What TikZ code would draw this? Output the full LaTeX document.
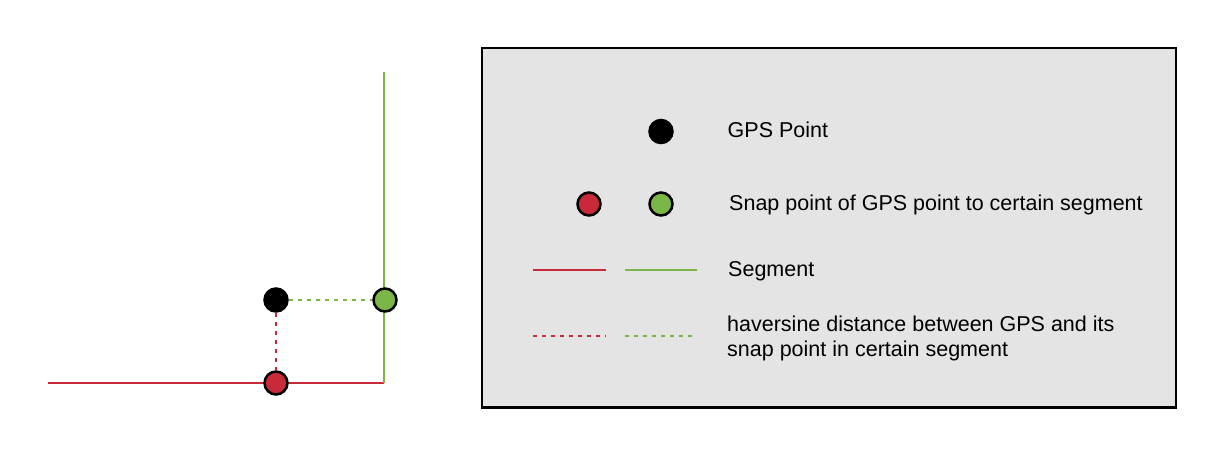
\documentclass[tikz,border=0pt]{standalone}
\usepackage{fontspec}
\setmainfont{Liberation Sans}
\definecolor{segred}{HTML}{C92A39}
\definecolor{seggreen}{HTML}{7AB648}
\definecolor{boxgray}{HTML}{E4E4E4}
\begin{document}
\begin{tikzpicture}[x=1pt,y=-1pt,
  dot/.style={circle,draw=black,line width=2.5pt,minimum size=23pt,inner sep=0pt},
  gpsdot/.style={dot,fill=black},
  reddot/.style={dot,fill=segred},
  greendot/.style={dot,fill=seggreen},
  redseg/.style={draw=segred,line width=2.5pt},
  greenseg/.style={draw=seggreen,line width=2.5pt},
  reddash/.style={redseg,dash pattern=on 4pt off 5pt},
  greendash/.style={greenseg,dash pattern=on 4pt off 5pt},
  label/.style={anchor=base west,inner sep=0pt,font=\fontsize{21.5}{25}\selectfont,align=left}]
\useasboundingbox (0,0) rectangle (1224,456);
% left scene
\coordinate (rl) at (48,383);
\coordinate (corner) at (384,383);
\coordinate (gt) at (384,72);
\draw[redseg] (rl) -- (corner);
\draw[greenseg] (corner) -- (gt);
\node[gpsdot] (g) at (276,300) {};
\node[greendot] (sg) at (385,300) {};
\node[reddot] (sr) at (276,383) {};
\draw[greendash] (g) -- (sg);
\draw[reddash] (g) -- (sr);
% legend box
\draw[fill=boxgray,line width=2.5pt] (482,48) rectangle (1176,407.5);
\node[gpsdot] (lg) at (661,131.5) {};
\node[reddot] (lr) at (589,204) {};
\node[greendot] (lgr) at (661,204) {};
\coordinate (ls1) at (533,270);
\coordinate (ls2) at (606,270);
\coordinate (ls3) at (625,270);
\coordinate (ls4) at (697,270);
\draw[redseg] (ls1) -- (ls2);
\draw[greenseg] (ls3) -- (ls4);
\coordinate (ld1) at (533,336);
\coordinate (ld2) at (606,336);
\coordinate (ld3) at (625,336);
\coordinate (ld4) at (697,336);
\draw[reddash] (ld1) -- (ld2);
\draw[greendash] (ld3) -- (ld4);
\node[label] (t1) at (727.5,137) {GPS Point};
\node[label] (t2) at (729,210.5) {Snap point of GPS point to certain segment};
\node[label] (t3) at (728,276.5) {Segment};
\node[label] (t4) at (727,356.5) {haversine distance between GPS and its\\snap point in certain segment};
\end{tikzpicture}
\end{document}
